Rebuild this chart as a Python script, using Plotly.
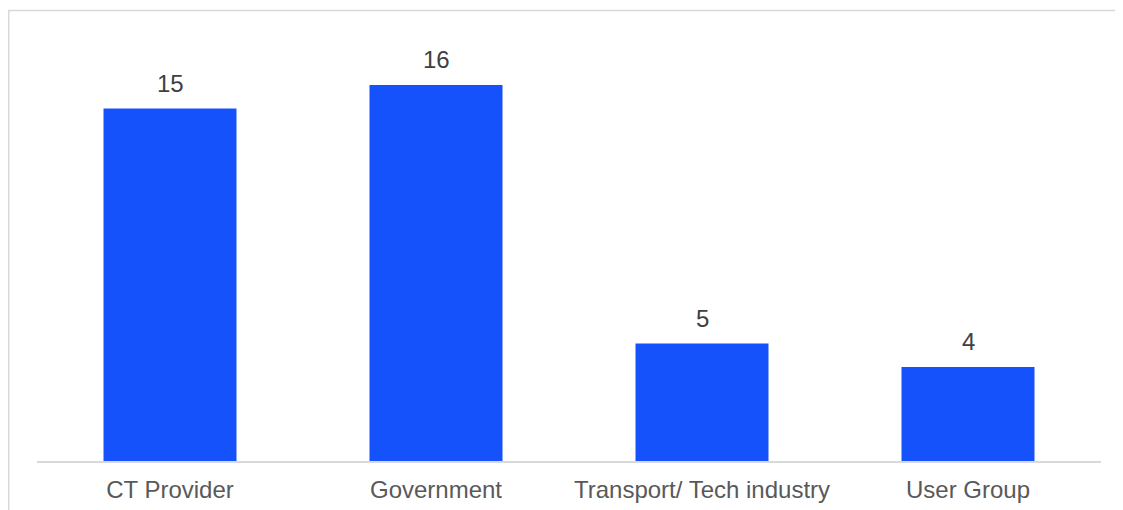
import plotly.graph_objects as go

categories = ["CT Provider", "Government", "Transport/ Tech industry", "User Group"]
values = [15, 16, 5, 4]

# page has an 8px body margin, so figure coordinates = page coordinates - 8
W, H = 1115, 502
L, R, T, B = 29, 22, 2, 49
plot_w = W - L - R
plot_h = H - T - B
ymax = 16 * plot_h / 376.0

fig = go.Figure(go.Bar(
    x=categories, y=values,
    marker=dict(color="#1652FB", line=dict(width=0)),
    hoverinfo="x+y",
))

for c, v in zip(categories, values):
    fig.add_annotation(x=c, y=v, text=str(v), showarrow=False,
                       yanchor="bottom", yshift=10,
                       font=dict(family="Liberation Sans, Arial", size=24, color="#404040"))

fig.update_layout(
    width=W, height=H,
    margin=dict(l=L, r=R, t=T, b=B),
    paper_bgcolor="white", plot_bgcolor="white",
    bargap=0.5,
    showlegend=False,
    xaxis=dict(showline=True, linecolor="#d9d9d9", linewidth=2,
               ticks="outside", ticklen=6, tickcolor="rgba(0,0,0,0)",
               tickfont=dict(family="Liberation Sans, Arial", size=24, color="#595959"),
               showgrid=False, zeroline=False),
    yaxis=dict(range=[0, ymax], visible=False, showgrid=False, zeroline=False),
    shapes=[
        dict(type="line", xref="paper", yref="paper",
             x0=(0 - L) / plot_w, x1=(W + 8 - L) / plot_w,
             y0=1 - 0.5 / plot_h, y1=1 - 0.5 / plot_h,
             line=dict(color="#d9d9d9", width=1.5)),
        dict(type="line", xref="paper", yref="paper",
             x0=(0.75 - L) / plot_w, x1=(0.75 - L) / plot_w, y0=1, y1=-(B + 5) / plot_h,
             line=dict(color="#d9d9d9", width=1.5)),
    ],
)

fig.write_html("out.html")
